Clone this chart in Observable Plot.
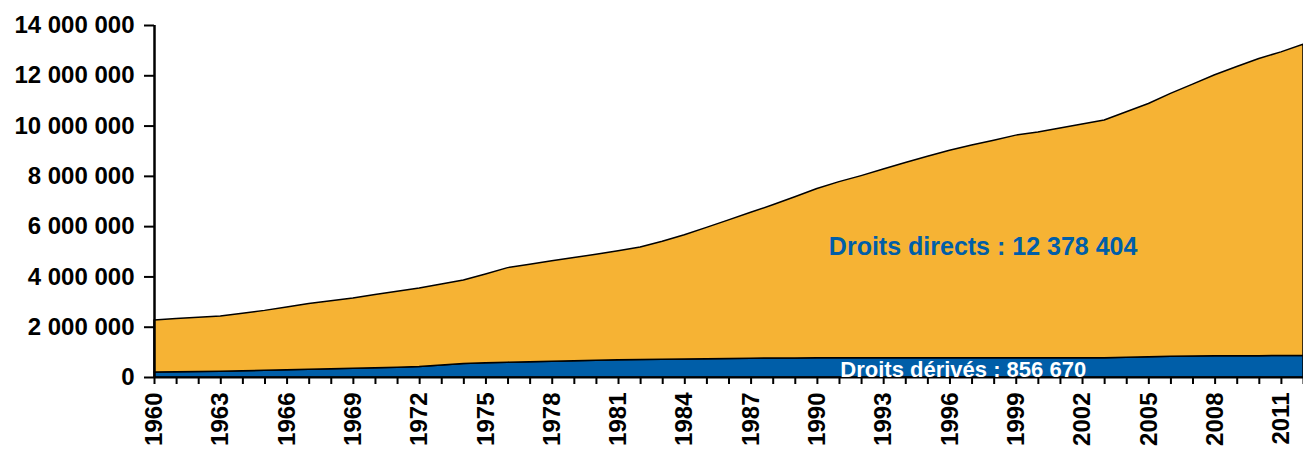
<!DOCTYPE html>
<html>
<head>
<meta charset="utf-8">
<script src="https://cdn.jsdelivr.net/npm/d3@7"></script>
<script src="https://cdn.jsdelivr.net/npm/@observablehq/plot@0.6"></script>
<style>
  html, body { margin: 0; padding: 0; background: #fff; }
  #chart svg { display: block; }
</style>
</head>
<body>
<div id="chart"></div>
<script>
const years = d3.range(1960, 2013);
// Droits dérivés (bottom series)
const derived = [
  200000, 210000, 220000, 230000, 250000, 270000, 290000, 310000, 330000, 350000,
  370000, 390000, 420000, 480000, 540000, 570000, 590000, 610000, 630000, 650000,
  670000, 690000, 700000, 710000, 720000, 730000, 740000, 750000, 760000, 760000,
  770000, 770000, 770000, 770000, 770000, 770000, 770000, 770000, 770000, 770000,
  770000, 770000, 770000, 770000, 790000, 810000, 830000, 840000, 850000, 850000,
  850000, 855000, 856670
];
// Droits directs (stacked on top)
const direct = [
  2070000, 2120000, 2160000, 2200000, 2290000, 2380000, 2490000, 2610000, 2700000, 2790000,
  2910000, 3020000, 3120000, 3220000, 3320000, 3530000, 3760000, 3870000, 3990000, 4100000,
  4210000, 4330000, 4470000, 4690000, 4940000, 5220000, 5510000, 5800000, 6090000, 6410000,
  6730000, 7000000, 7240000, 7500000, 7760000, 8010000, 8250000, 8460000, 8650000, 8850000,
  8970000, 9130000, 9290000, 9450000, 9760000, 10070000, 10450000, 10810000, 11170000, 11500000,
  11820000, 12075000, 12378404
];
const seriesNames = ["Droits dérivés", "Droits directs"];
const seriesColors = ["#005EA8", "#F6B334"];
const yTicks = [0, 2000000, 4000000, 6000000, 8000000, 10000000, 12000000, 14000000];
const labelTexts = ["Droits directs : 12 378 404", "Droits dérivés : 856 670"];
const labelYears = [1997.5, 1996.6];
const labelValues = [5200000, 320000];
const labelColors = ["#005EA8", "#FFFFFF"];
const labelSizes = [25, 22];

const rows = [];
years.forEach((yr, i) => {
  rows.push({year: yr, series: seriesNames[0], value: derived[i]});
  rows.push({year: yr, series: seriesNames[1], value: direct[i]});
});
const labels = labelTexts.map((t, i) => ({text: t, year: labelYears[i], value: labelValues[i], color: labelColors[i], size: labelSizes[i]}));

const fmt = d => d3.format(",")(d).replace(/,/g, " ");

const chart = Plot.plot({
  width: 1303,
  height: 449,
  marginLeft: 154,
  marginRight: 0,
  marginTop: 25,
  marginBottom: 72,
  style: {fontFamily: "'Liberation Sans', Arial, sans-serif", fontWeight: "bold", fontSize: "24px", color: "#000", background: "#fff"},
  x: {domain: [1960, 2012]},
  y: {domain: [0, 14000000]},
  color: {domain: seriesNames, range: seriesColors},
  marks: [
    Plot.areaY(rows, {x: "year", y: "value", z: "series", fill: "series", order: seriesNames, stroke: "#000", strokeWidth: 1.5, curve: "linear"}),
    Plot.ruleX([1960], {stroke: "#000", strokeWidth: 2.5}),
    Plot.ruleY([0], {stroke: "#000", strokeWidth: 2}),
    Plot.axisY({ticks: yTicks, tickFormat: fmt, tickSize: 10, tickPadding: 10, label: null, fontSize: 24, stroke: "#000", strokeWidth: 2}),
    Plot.axisX({ticks: years, tickFormat: d => ((d - 1960) % 3 === 0 ? String(d) : ""), tickRotate: -90, tickSize: 7, tickPadding: 8, label: null, fontSize: 24, stroke: "#000", strokeWidth: 2}),
    Plot.text(labels, {x: "year", y: "value", text: "text", fill: "color", fontSize: "size", fontWeight: "bold", textAnchor: "middle"})
  ]
});
document.getElementById("chart").appendChild(chart);
</script>
</body>
</html>
